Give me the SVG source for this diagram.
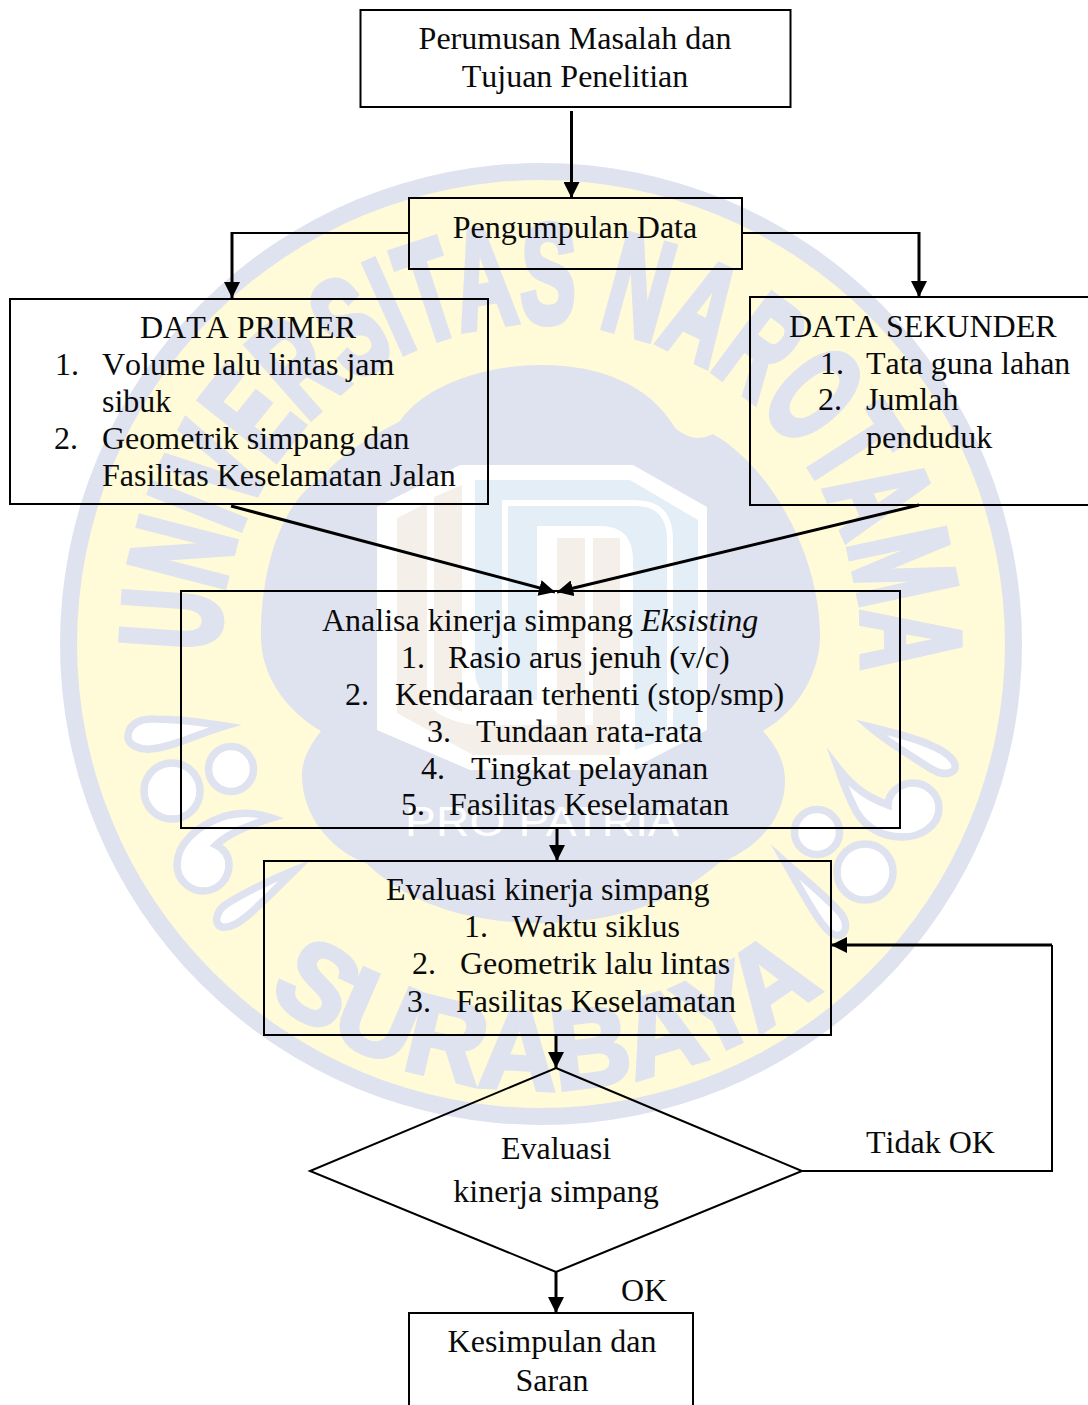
<svg xmlns="http://www.w3.org/2000/svg" width="1088" height="1405" viewBox="0 0 1088 1405">
<style>
.t{font-family:"Liberation Serif","Times New Roman",serif;font-size:32px;fill:#0a0a0a;font-kerning:none}
.c{text-anchor:middle}
.box{fill:none;stroke:#000;stroke-width:2}
.con{fill:none;stroke:#000;stroke-width:3}
.thin{stroke-width:2}
.orn{fill:#fff;stroke:#dfe2ef;stroke-width:7.5;stroke-miterlimit:30}
.wm{font-family:"Liberation Sans",Arial,sans-serif;font-weight:700;fill:#dfe2ef;stroke:#dfe2ef;stroke-width:7;stroke-linejoin:miter}
.wm2{stroke-width:4}
</style>
<defs>
<marker id="arrow" markerUnits="userSpaceOnUse" markerWidth="16" markerHeight="16" viewBox="0 0 16 16" refX="16" refY="8" orient="auto">
<path d="M0,0L16,8L0,16Z" fill="#000"/>
</marker>
<path id="arcTop" d="M219,652A322,322 0 1 1 862,668"/>
<path id="arcBot" d="M267,995A445,445 0 0 0 827,985"/>
</defs>
<rect width="1088" height="1405" fill="#fff"/>
<g id="watermark">
<circle cx="541" cy="644" r="481" fill="#dfe2ef"/>
<circle cx="541" cy="644" r="464" fill="#fffad7"/>
<path d="M400,421C425,385 485,365 542,365C600,365 650,385 675,428C690,440 700,440 713,434C775,470 820,560 820,636C820,670 800,710 763,731C775,745 785,760 785,781C785,820 755,850 719,863C670,905 610,923 542,923C470,923 410,905 366,863C330,850 302,815 302,775C302,760 310,745 321,731C285,710 261,675 261,636C261,560 285,500 321,478C345,450 375,435 400,421Z" fill="#dfe2ef"/>
<text class="wm" font-size="140"><textPath href="#arcTop" textLength="1045" lengthAdjust="spacingAndGlyphs">UNIVERSITAS NAROTAMA</textPath></text>
<text class="wm wm2" font-size="112"><textPath href="#arcBot" textLength="600" lengthAdjust="spacingAndGlyphs">SURABAYA</textPath></text>
<path d="M225,726C200,722 175,719 155,719C135,718 128,728 128,737C128,745 140,750 150,749C170,748 195,735 225,726Z" class="orn"/>
<circle cx="231" cy="769" r="22.5" class="orn"/>
<circle cx="172" cy="791" r="28" class="orn"/>
<path d="M272,818C255,812 240,812 225,816C195,826 177,845 177,865C177,880 190,891 203,891C218,891 229,879 229,865C229,856 224,849 216,845C230,832 250,825 272,818Z" class="orn"/>
<path d="M295,870C270,880 240,895 225,905C215,913 214,925 222,927C235,930 250,915 295,870Z" class="orn"/>
<path d="M870,727C895,733 915,738 930,745C950,753 960,765 953,771C945,777 935,772 925,765C905,752 885,740 870,727Z" class="orn"/>
<path d="M838,768C855,790 870,798 888,805C888,793 900,783 913,783C928,783 939,795 939,808C939,825 922,837 903,837C880,837 862,826 853,805C847,793 843,782 838,768Z" class="orn"/>
<circle cx="817" cy="832" r="22.5" class="orn"/>
<circle cx="865" cy="872" r="28" class="orn"/>
<path d="M785,862C805,880 830,900 842,915C850,928 843,938 835,935C825,932 815,915 785,862Z" class="orn"/>
<polygon points="377,507 460,465 633,465 707,507 707,730 630,770 470,770 377,730" fill="#fff"/>
<path d="M397,518L427,503V700Q435,720 475,725H620V755H473L397,713Z" fill="#f4f0e9"/>
<path d="M434,497L462,485V712Q445,705 434,690Z" fill="#f4f0e9"/>
<path d="M475,480H630L698,520V727L635,750V700H509Q475,700 475,670Z" fill="#e3eef7"/>
<path d="M505,700V503H635Q670,503 670,540V745" fill="none" stroke="#fff" stroke-width="6"/>
<path d="M537,724V526H600Q633,526 633,560V724Z" fill="#fff"/>
<rect x="557" y="538" width="28" height="217" fill="#f4f0e9"/>
<rect x="593" y="538" width="27" height="217" fill="#f4f0e9"/>
<text x="542" y="836" font-size="43" text-anchor="middle" textLength="274" lengthAdjust="spacingAndGlyphs" style="font-family:'Liberation Sans',Arial,sans-serif;fill:#fff">PRO PATRIA</text>
</g>
<g id="connectors">
<path class="con" d="M571.5,111V198" marker-end="url(#arrow)"/>
<path class="con thin" d="M409,233H232"/>
<path class="con" d="M232,232V298" marker-end="url(#arrow)"/>
<path class="con thin" d="M742,233H919"/>
<path class="con" d="M919,232V297" marker-end="url(#arrow)"/>
<path class="con" d="M231,506L555,592" marker-end="url(#arrow)"/>
<path class="con" d="M919,505L557,592" marker-end="url(#arrow)"/>
<path class="con" d="M557,829V861" marker-end="url(#arrow)"/>
<path class="con" d="M556,1035V1068" marker-end="url(#arrow)"/>
<path class="con" d="M556,1272V1313" marker-end="url(#arrow)"/>
<path class="con thin" d="M802,1171H1052V945"/>
<path class="con" d="M1052,945H831" marker-end="url(#arrow)"/>
</g>
<g id="node-rumusan">
<rect class="box" x="360.5" y="10" width="430" height="97"/>
<text class="t c" x="575" y="49">Perumusan Masalah dan</text>
<text class="t c" x="575" y="87">Tujuan Penelitian</text>
</g>
<g id="node-pengumpulan">
<rect class="box" x="409" y="198" width="333" height="71"/>
<text class="t c" x="575" y="238">Pengumpulan Data</text>
</g>
<g id="node-primer">
<rect class="box" x="10" y="299" width="478" height="205"/>
<text class="t c" x="248" y="338">DATA PRIMER</text>
<text class="t" x="55" y="375">1.</text><text class="t" x="102" y="375">Volume lalu lintas jam</text>
<text class="t" x="102" y="412">sibuk</text>
<text class="t" x="54" y="449">2.</text><text class="t" x="102" y="449">Geometrik simpang dan</text>
<text class="t" x="102" y="486">Fasilitas Keselamatan Jalan</text>
</g>
<g id="node-sekunder">
<rect class="box" x="750" y="297" width="345" height="208"/>
<text class="t" x="789" y="337">DATA SEKUNDER</text>
<text class="t" x="820" y="374">1.</text><text class="t" x="866" y="374">Tata guna lahan</text>
<text class="t" x="818" y="410">2.</text><text class="t" x="866" y="410">Jumlah</text>
<text class="t" x="866" y="448">penduduk</text>
</g>
<g id="node-analisa">
<rect class="box" x="181" y="591" width="719" height="237"/>
<text class="t" x="322" y="631">Analisa kinerja simpang <tspan font-style="italic">Eksisting</tspan></text>
<text class="t" x="401" y="668">1.</text><text class="t" x="448" y="668">Rasio arus jenuh (v/c)</text>
<text class="t" x="345" y="705">2.</text><text class="t" x="395" y="705">Kendaraan terhenti (stop/smp)</text>
<text class="t" x="427" y="742">3.</text><text class="t" x="476" y="742">Tundaan rata-rata</text>
<text class="t" x="421" y="779">4.</text><text class="t" x="471" y="779">Tingkat pelayanan</text>
<text class="t" x="401" y="815">5.</text><text class="t" x="449" y="815">Fasilitas Keselamatan</text>
</g>
<g id="node-evaluasi">
<rect class="box" x="264" y="861" width="567" height="174"/>
<text class="t" x="386" y="900">Evaluasi kinerja simpang</text>
<text class="t" x="464" y="937">1.</text><text class="t" x="512" y="937">Waktu siklus</text>
<text class="t" x="412" y="974">2.</text><text class="t" x="460" y="974">Geometrik lalu lintas</text>
<text class="t" x="407" y="1012">3.</text><text class="t" x="456" y="1012">Fasilitas Keselamatan</text>
</g>
<g id="node-keputusan">
<polygon class="box" points="556,1068 802,1171 556,1272 310,1171"/>
<text class="t c" x="556" y="1159">Evaluasi</text>
<text class="t c" x="556" y="1202">kinerja simpang</text>
</g>
<g id="node-kesimpulan">
<rect class="box" x="409" y="1313" width="284" height="100"/>
<text class="t c" x="552" y="1352">Kesimpulan dan</text>
<text class="t c" x="552" y="1391">Saran</text>
</g>
<g id="labels">
<text class="t" x="621" y="1301">OK</text>
<text class="t" x="866" y="1153">Tidak OK</text>
</g>
</svg>
